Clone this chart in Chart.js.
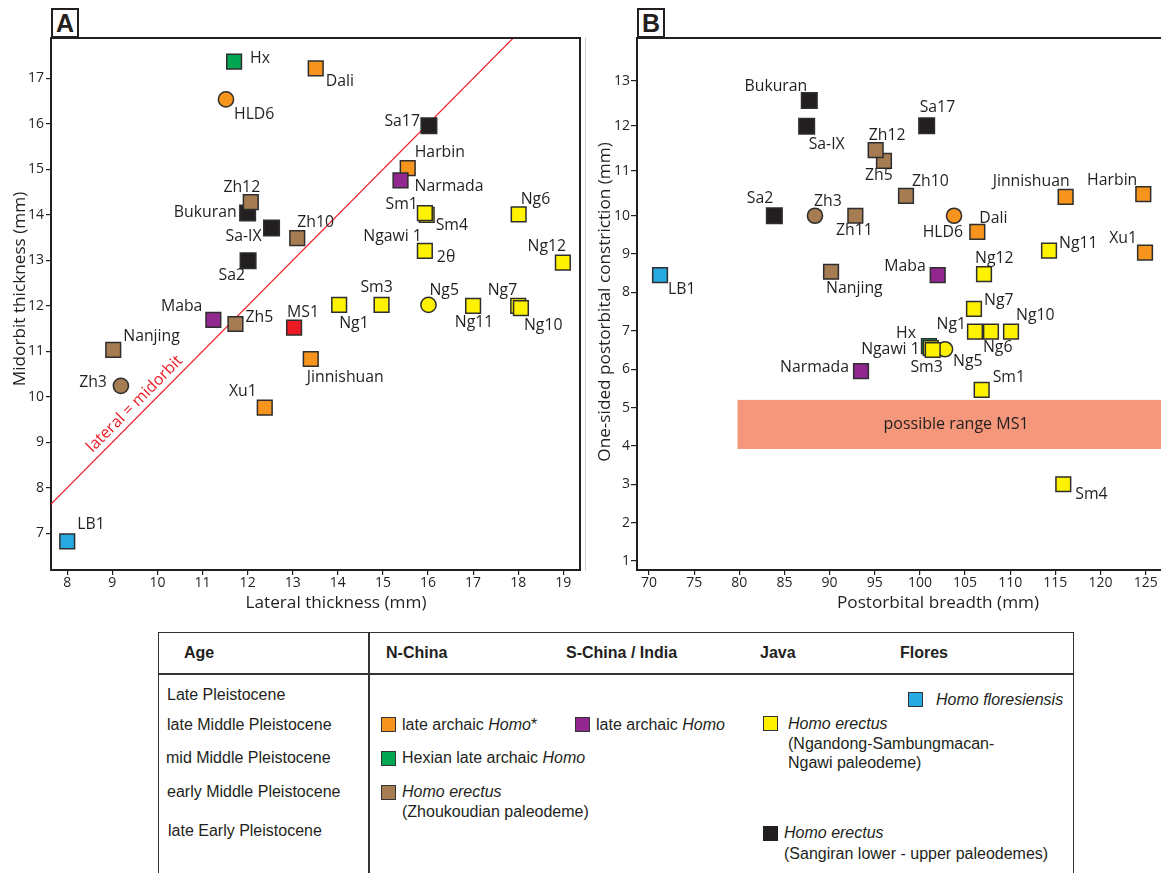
<!DOCTYPE html>
<html>
<head>
<meta charset="utf-8">
<script src="https://cdn.jsdelivr.net/npm/chart.js@4/dist/chart.umd.min.js"></script>
<style>
  body { margin: 0; width: 1161px; height: 873px; overflow: hidden; position: relative; background: #fff; }
  canvas { position: absolute; top: 0; }
  .panel { position: absolute; top: 8px; width: 24px; height: 26px; border: 2px solid #231f20; background: #fff;
           font: bold 25px "Liberation Sans", Arial, sans-serif; color: #231f20; text-align: center; line-height: 27px; }
  .lg { position: absolute; font: 16px "Liberation Sans", Arial, sans-serif; color: #231f20; line-height: 18px; white-space: nowrap; }
  .lg.b { font-weight: bold; }
  .sw { position: absolute; width: 15px; height: 15px; box-sizing: border-box; border: 1.5px solid #333; }
</style>
</head>
<body>
<canvas id="chartA" width="590" height="620" style="left:0"></canvas>
<canvas id="chartB" width="573" height="620" style="left:588px"></canvas>
<div style="position:absolute;left:585px;top:37px;width:1px;height:534px;background:#d4d4d4"></div>
<div class="panel" style="left:51px">A</div>
<div class="panel" style="left:637px">B</div>

<!-- legend table -->
<div style="position:absolute;left:158px;top:632px;width:914px;height:260px;border:1.5px solid #333"></div>
<div style="position:absolute;left:158px;top:673px;width:916px;height:1.5px;background:#333"></div>
<div style="position:absolute;left:368px;top:632px;width:1.5px;height:260px;background:#333"></div>

<div class="lg b" style="left:184px;top:644px">Age</div>
<div class="lg b" style="left:386px;top:644px">N-China</div>
<div class="lg b" style="left:566px;top:644px">S-China / India</div>
<div class="lg b" style="left:760px;top:644px">Java</div>
<div class="lg b" style="left:900px;top:644px">Flores</div>

<div class="lg" style="left:167px;top:686px">Late Pleistocene</div>
<div class="lg" style="left:167px;top:716px">late Middle Pleistocene</div>
<div class="lg" style="left:166px;top:749px">mid Middle Pleistocene</div>
<div class="lg" style="left:167px;top:783px">early Middle Pleistocene</div>
<div class="lg" style="left:168px;top:822px">late Early Pleistocene</div>

<div class="sw" style="left:381px;top:717px;background:#f7941d"></div>
<div class="lg" style="left:402px;top:716px">late archaic <i>Homo</i>*</div>
<div class="sw" style="left:575px;top:717px;background:#92278f"></div>
<div class="lg" style="left:596px;top:716px">late archaic <i>Homo</i></div>
<div class="sw" style="left:381px;top:751px;background:#00a651"></div>
<div class="lg" style="left:402px;top:749px">Hexian late archaic <i>Homo</i></div>
<div class="sw" style="left:381px;top:785px;background:#a67c52"></div>
<div class="lg" style="left:402px;top:783px"><i>Homo erectus</i></div>
<div class="lg" style="left:402px;top:803px">(Zhoukoudian paleodeme)</div>

<div class="sw" style="left:908px;top:692px;background:#27aae1"></div>
<div class="lg" style="left:936px;top:691px"><i>Homo floresiensis</i></div>
<div class="sw" style="left:763px;top:716px;background:#fff200"></div>
<div class="lg" style="left:788px;top:715px"><i>Homo erectus</i></div>
<div class="lg" style="left:788px;top:735px">(Ngandong-Sambungmacan-</div>
<div class="lg" style="left:788px;top:754px">Ngawi paleodeme)</div>
<div class="sw" style="left:763px;top:826px;background:#231f20;border-color:#231f20"></div>
<div class="lg" style="left:784px;top:824px"><i>Homo erectus</i></div>
<div class="lg" style="left:784px;top:845px">(Sangiran lower - upper paleodemes)</div>

<script>
// ---- data ----
// panel A: lateral vs midorbit thickness (mm)
const namesA = ['LB1', 'Zh3', 'Nanjing', 'Maba', 'Zh5', 'Xu1', 'MS1', 'Jinnishuan', 'Sa2', 'Bukuran',
  'Zh12', 'Sa-IX', 'Zh10', 'Hx', 'HLD6', 'Dali', 'Sa17', 'Harbin', 'Narmada', 'Sm4',
  'Sm1', 'Ngawi 1', 'Ng6', 'Ng12', 'Ng1', 'Sm3', 'Ng5', 'Ng11', 'Ng7', 'Ng10'];
const lateralA = [8.00, 9.19, 9.02, 11.24, 11.73, 12.38, 13.03, 13.40, 12.01, 12.00,
  12.07, 12.53, 13.10, 11.70, 11.52, 13.51, 16.02, 15.55, 15.39, 15.97,
  15.93, 15.93, 18.01, 18.99, 14.03, 14.97, 16.01, 17.00, 18.00, 18.06];
const midorbitA = [6.82, 10.24, 11.03, 11.69, 11.60, 9.76, 11.52, 10.83, 12.99, 14.04,
  14.28, 13.71, 13.49, 17.37, 16.54, 17.22, 15.96, 15.03, 14.76, 14.00,
  14.04, 13.21, 14.01, 12.95, 12.02, 12.02, 12.02, 12.00, 12.00, 11.95];
const equalityLine = [7, 19];   // lateral = midorbit

// panel B: postorbital breadth vs one-sided postorbital constriction (mm)
const namesB = ['LB1', 'Sa2', 'Bukuran', 'Sa-IX', 'Zh3', 'Nanjing', 'Zh11', 'Narmada', 'Zh5', 'Zh12',
  'Zh10', 'Sa17', 'Maba', 'HLD6', 'Dali', 'Ng12', 'Ng7', 'Ng1', 'Ng6', 'Ng10',
  'Ng5', 'Hx', 'Ngawi 1', 'Sm3', 'Sm1', 'Sm4', 'Ng11', 'Jinnishuan', 'Harbin', 'Xu1'];
const breadthB = [71.22, 83.88, 87.75, 87.46, 88.38, 90.16, 92.85, 93.48, 96.02, 95.10,
  98.46, 100.75, 101.97, 103.78, 106.36, 107.10, 105.99, 106.10, 107.87, 110.09,
  102.78, 101.00, 101.20, 101.42, 106.84, 115.88, 114.30, 116.14, 124.74, 124.93];
const constrictionB = [8.45, 10.00, 12.56, 11.99, 10.00, 8.54, 10.00, 5.95, 11.22, 11.46,
  10.44, 12.00, 8.45, 10.00, 9.58, 8.48, 7.57, 6.98, 6.98, 6.98,
  6.52, 6.60, 6.55, 6.50, 5.46, 3.00, 9.09, 10.42, 10.48, 9.04];
const ms1Range = [3.92, 5.2];     // possible constriction range for MS1
const ms1RangeFrom = 79.8;        // breadth where the band starts

// groups
const lateArchaicN = ['HLD6', 'Dali', 'Harbin', 'Xu1', 'Jinnishuan'];
const hexian = ['Hx'];
const zhoukoudian = ['Zh3', 'Zh5', 'Zh10', 'Zh11', 'Zh12', 'Nanjing'];
const lateArchaicS = ['Maba', 'Narmada'];
const ngandong = ['Sm1', 'Sm3', 'Sm4', 'Ngawi 1', 'Ng1', 'Ng5', 'Ng6', 'Ng7', 'Ng10', 'Ng11', 'Ng12'];
const sangiran = ['Bukuran', 'Sa-IX', 'Sa2', 'Sa17'];
const flores = ['LB1'];
const ms1 = ['MS1'];
const roundMarkers = ['HLD6', 'Zh3', 'Ng5'];

// ---- styling ----
const ink = '#231f20';
const groups = [
  [lateArchaicN, '#f7941d'], [hexian, '#00a651'], [zhoukoudian, '#a67c52'], [lateArchaicS, '#92278f'],
  [ngandong, '#fff200'], [sangiran, '#231f20'], [flores, '#27aae1'], [ms1, '#ed1c24']
];
function colorOf(name) {
  for (const [list, c] of groups) if (list.includes(name)) return c;
  return '#999';
}

// label placement: [text, align, dx, dy] relative to the marker
const placeA = {
  'Hx': [['Hx', 'left', 16, -3]], 'HLD6': [['HLD6', 'left', 8, 15]], 'Dali': [['Dali', 'left', 10, 13]],
  'Sa17': [['Sa17', 'right', -9, -4]], 'Harbin': [['Harbin', 'left', 7, -16]], 'Narmada': [['Narmada', 'left', 14, 6]],
  'Sm1': [['Sm1', 'right', -7, -9]], 'Sm4': [['Sm4', 'left', 9, 11]], 'Ng6': [['Ng6', 'left', 2, -15]],
  'Ngawi 1': [['Ngawi 1', 'right', -3, -14], ['2θ', 'left', 12, 7]], 'Ng12': [['Ng12', 'center', -16, -16]],
  'Zh12': [['Zh12', 'center', -9, -15]], 'Bukuran': [['Bukuran', 'right', -11, -1]], 'Sa-IX': [['Sa-IX', 'right', -10, 8]],
  'Zh10': [['Zh10', 'left', 0, -16]], 'Sa2': [['Sa2', 'right', -3, 15]], 'Maba': [['Maba', 'right', -11, -13]],
  'Zh5': [['Zh5', 'left', 10, -7]], 'Nanjing': [['Nanjing', 'left', 10, -13]], 'Zh3': [['Zh3', 'right', -14, -3]],
  'LB1': [['LB1', 'left', 10, -17]], 'Xu1': [['Xu1', 'right', -8, -16]], 'MS1': [['MS1', 'left', -7, -15]],
  'Jinnishuan': [['Jinnishuan', 'left', -4, 18]], 'Ng1': [['Ng1', 'left', 0, 19]], 'Sm3': [['Sm3', 'center', -5, -17]],
  'Ng5': [['Ng5', 'left', 1, -14]], 'Ng11': [['Ng11', 'center', 1, 17]], 'Ng7': [['Ng7', 'right', -1, -15]],
  'Ng10': [['Ng10', 'left', 3, 17]]
};
const placeB = {
  'LB1': [['LB1', 'left', 8, 14]], 'Sa2': [['Sa2', 'right', -1, -17]], 'Bukuran': [['Bukuran', 'right', -2, -14]],
  'Sa-IX': [['Sa-IX', 'left', 2, 18]], 'Zh3': [['Zh3', 'left', -1, -14]], 'Nanjing': [['Nanjing', 'left', -5, 17]],
  'Zh11': [['Zh11', 'center', -1, 15]], 'Narmada': [['Narmada', 'right', -12, -4]], 'Zh5': [['Zh5', 'left', -19, 15]],
  'Zh12': [['Zh12', 'left', -7, -15]], 'Zh10': [['Zh10', 'left', 6, -14]], 'Sa17': [['Sa17', 'left', -7, -18]],
  'Maba': [['Maba', 'right', -12, -9]], 'HLD6': [['HLD6', 'right', 9, 17]], 'Dali': [['Dali', 'left', 2, -13]],
  'Ng12': [['Ng12', 'left', -9, -16]], 'Ng7': [['Ng7', 'left', 10, -8]], 'Ng1': [['Ng1', 'right', -9, -7]],
  'Ng6': [['Ng6', 'left', -8, 16]], 'Ng10': [['Ng10', 'left', 5, -16]], 'Ng5': [['Ng5', 'left', 8, 12]],
  'Hx': [['Hx', 'right', -13, -13]], 'Ngawi 1': [['Ngawi 1', 'right', -11, 1]], 'Sm3': [['Sm3', 'right', 10, 17]],
  'Sm1': [['Sm1', 'left', 11, -12]], 'Sm4': [['Sm4', 'left', 12, 10]], 'Ng11': [['Ng11', 'left', 10, -7]],
  'Jinnishuan': [['Jinnishuan', 'right', 4, -15]], 'Harbin': [['Harbin', 'right', -6, -14]], 'Xu1': [['Xu1', 'right', -8, -14]]
};

const labelFont = '15.8px "Open Sans", sans-serif';
const titleFont = '17.2px "Open Sans", sans-serif';
const tickFont = { family: '"Open Sans", sans-serif', size: 14 };

// B's y axis in the original is spaced wider above 10 mm
const yBreak = 10;
const yUpperStretch = 1.173;
class BrokenLinearScale extends Chart.LinearScale {
  static id = 'brokenLinear';
  static defaults = {};
  _t(v) { return v <= yBreak ? v : yBreak + (v - yBreak) * yUpperStretch; }
  _tInv(t) { return t <= yBreak ? t : yBreak + (t - yBreak) / yUpperStretch; }
  getPixelForValue(value) {
    if (value === null) return NaN;
    const t0 = this._t(this.min), t1 = this._t(this.max);
    return this.getPixelForDecimal((this._t(value) - t0) / (t1 - t0));
  }
  getValueForPixel(pixel) {
    const t0 = this._t(this.min), t1 = this._t(this.max);
    return this._tInv(t0 + this.getDecimalForPixel(pixel) * (t1 - t0));
  }
}
Chart.register(BrokenLinearScale);

function pointDataset(names, xs, ys) {
  return {
    data: names.map((n, i) => ({ x: xs[i], y: ys[i] })),
    pointStyle: names.map(n => roundMarkers.includes(n) ? 'circle' : 'rect'),
    pointRadius: names.map(n => roundMarkers.includes(n) ? 7.6 : (sangiran.includes(n) ? 11 : 10.4)),
    backgroundColor: names.map(colorOf),
    borderColor: '#2e2e2e',
    borderWidth: 1.5
  };
}

function labelPlugin(names, place) {
  return {
    id: 'pointLabels',
    afterDatasetsDraw(chart) {
      const { ctx } = chart;
      const meta = chart.getDatasetMeta(0);
      ctx.save();
      ctx.font = labelFont;
      ctx.fillStyle = ink;
      ctx.textBaseline = 'middle';
      names.forEach((n, i) => {
        const el = meta.data[i];
        (place[n] || []).forEach(([text, align, dx, dy]) => {
          ctx.textAlign = align;
          ctx.fillText(text, el.x + dx, el.y + dy);
        });
      });
      ctx.restore();
    }
  };
}

function framePlugin(opt) {
  return {
    id: 'frame',
    beforeDatasetsDraw(chart) {
      if (!opt.band) return;
      const { ctx, chartArea: a, scales: { x, y } } = chart;
      const x0 = x.getPixelForValue(opt.band.from);
      const yTop = y.getPixelForValue(opt.band.range[1]);
      const yBot = y.getPixelForValue(opt.band.range[0]);
      ctx.save();
      ctx.fillStyle = '#f4977a';
      ctx.fillRect(x0, yTop, a.right - x0, yBot - yTop);
      ctx.fillStyle = ink;
      ctx.font = '16px "Open Sans", sans-serif';
      ctx.textAlign = 'center';
      ctx.textBaseline = 'middle';
      ctx.fillText(opt.band.text, x.getPixelForValue(opt.band.textAt), (yTop + yBot) / 2);
      ctx.restore();
    },
    afterDraw(chart) {
      const { ctx, chartArea: a, scales: { x, y } } = chart;
      ctx.save();
      ctx.strokeStyle = ink;
      ctx.lineWidth = 2;
      ctx.beginPath();
      ctx.moveTo(a.left - 1, a.top);
      ctx.lineTo(a.right, a.top);
      if (opt.rightBorder) ctx.lineTo(a.right, a.bottom + 1);
      ctx.stroke();

      ctx.fillStyle = ink;
      ctx.font = titleFont;
      ctx.textAlign = 'center';
      ctx.textBaseline = 'middle';
      ctx.fillText(opt.xTitle[0], opt.xTitle[1], opt.xTitle[2]);
      ctx.translate(opt.yTitle[1], opt.yTitle[2]);
      ctx.rotate(-Math.PI / 2);
      ctx.fillText(opt.yTitle[0], 0, 0);
      ctx.restore();

      if (opt.diagLabel) {
        const v = opt.diagLabel.at;
        const px = x.getPixelForValue(v), py = y.getPixelForValue(v);
        const ang = Math.atan2(y.getPixelForValue(v + 1) - py, x.getPixelForValue(v + 1) - px);
        ctx.save();
        ctx.translate(px, py);
        ctx.rotate(ang);
        ctx.fillStyle = '#ed1c24';
        ctx.font = '16px "Open Sans", sans-serif';
        ctx.textAlign = 'center';
        ctx.textBaseline = 'bottom';
        ctx.fillText(opt.diagLabel.text, 0, -3);
        ctx.restore();
      }
    }
  };
}

function axis(min, max, step, fitKey, fitSize, tickLen, pad) {
  return {
    type: 'linear', min, max,
    ticks: { stepSize: step, includeBounds: false, font: tickFont, color: ink, padding: pad },
    grid: { drawOnChartArea: false, tickLength: tickLen, color: ink, lineWidth: 1.2 },
    border: { color: ink, width: 2 },
    afterFit: s => { s[fitKey] = fitSize; }
  };
}

const common = {
  responsive: false, animation: false, devicePixelRatio: 1, events: [],
  plugins: { legend: { display: false }, tooltip: { enabled: false } }
};

new Chart(document.getElementById('chartA'), {
  type: 'scatter',
  data: {
    datasets: [
      pointDataset(namesA, lateralA, midorbitA),
      { type: 'line', data: equalityLine.map(v => ({ x: v, y: v })), borderColor: '#ed1c24', borderWidth: 1.2, pointRadius: 0 }
    ]
  },
  options: {
    ...common,
    layout: { autoPadding: false, padding: { top: 38, right: 10, left: 0, bottom: 0 } },
    scales: {
      x: axis(7.64, 19.37, 1, 'height', 50, 5, 0),
      y: axis(6.19, 17.89, 1, 'width', 51, 5, 2)
    }
  },
  plugins: [
    labelPlugin(namesA, placeA),
    framePlugin({
      rightBorder: true,
      xTitle: ['Lateral thickness (mm)', 336, 603],
      yTitle: ['Midorbit thickness (mm)', 20, 289],
      diagLabel: { text: 'lateral = midorbit', at: 9.67 }
    })
  ]
});

const yB = axis(0.765, 13.95, 1, 'width', 49, 6, 1);
yB.type = 'brokenLinear';
new Chart(document.getElementById('chartB'), {
  type: 'scatter',
  data: { datasets: [pointDataset(namesB, breadthB, constrictionB)] },
  options: {
    ...common,
    layout: { autoPadding: false, padding: { top: 38, right: 0, left: 0, bottom: 0 } },
    scales: {
      x: axis(68.67, 126.7, 5, 'height', 50, 5, 0),
      y: yB
    }
  },
  plugins: [
    labelPlugin(namesB, placeB),
    framePlugin({
      rightBorder: false,
      xTitle: ['Postorbital breadth (mm)', 350, 603],
      yTitle: ['One-sided postorbital constriction (mm)', 17, 302],
      band: { from: ms1RangeFrom, range: ms1Range, text: 'possible range MS1', textAt: 104 }
    })
  ]
});
</script>
</body>
</html>
